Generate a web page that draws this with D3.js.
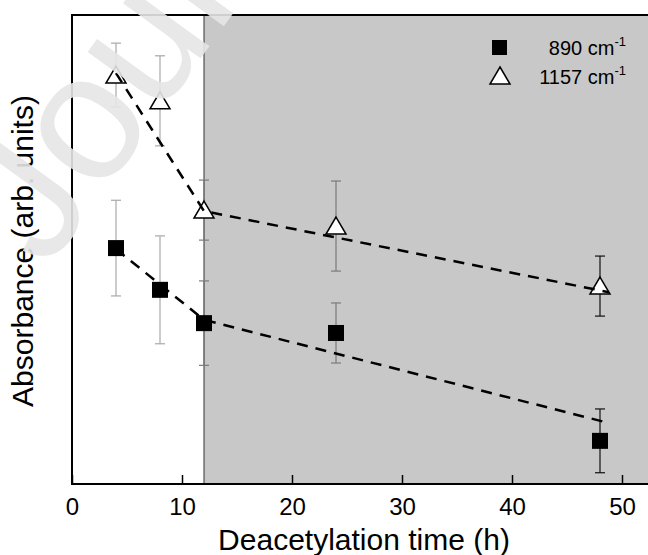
<!DOCTYPE html>
<html>
<head>
<meta charset="utf-8">
<script src="https://cdn.jsdelivr.net/npm/d3@7"></script>
<style>
  body { margin: 0; background: #fff; }
  text { font-family: Arial, "Liberation Sans", sans-serif; fill: #000; }
</style>
</head>
<body>
<div id="plot"></div>
<script>
// data (absorbance in arbitrary units, 0-100)
const times = [4, 8, 12, 24, 48];
const abs890 = [50.3, 41.4, 34.3, 32.2, 9.2];
const err890 = [10.2, 11.5, 9.0, 6.4, 6.8];
const abs1157 = [87.2, 81.7, 58.4, 55.0, 42.2];
const err1157 = [6.8, 9.6, 6.4, 9.6, 6.4];

// dashed linear fits (two pieces, break at 12 h)
const fitTimes = [4, 12, 48.8];
const fit890 = [50.1, 35.0, 13.0];
const fit1157 = [87.6, 58.2, 40.9];

const xTicks = [0, 10, 20, 30, 40, 50];
const shadeStart = 12;

// set svg dimensions and margins
const svgWidth = 648;
const svgHeight = 555;
const margin = {top: 15, left: 72, bottom: 484};

let svg = d3.select("#plot")
  .append("svg")
  .attr("width", svgWidth)
  .attr("height", svgHeight);

var x = d3.scaleLinear()
  .domain([0, 55])
  .range([margin.left, margin.left + 605]);

var y = d3.scaleLinear()
  .domain([0, 100])
  .range([margin.bottom, margin.top]);

// shaded region after 12 h
svg.append("rect")
  .attr("x", x(shadeStart))
  .attr("y", margin.top)
  .attr("width", svgWidth - x(shadeStart))
  .attr("height", margin.bottom - margin.top)
  .attr("fill", "#c8c8c8");

svg.append("line")
  .attr("x1", x(shadeStart)).attr("x2", x(shadeStart))
  .attr("y1", margin.top).attr("y2", margin.bottom)
  .attr("stroke", "#333")
  .attr("stroke-width", 1);

// x axis with inward ticks
let xAxis = svg.append("g")
  .attr("transform", "translate(0," + margin.bottom + ")")
  .call(d3.axisBottom(x).tickValues(xTicks).tickSizeInner(-9).tickSizeOuter(0).tickPadding(14));
xAxis.select(".domain").remove();
xAxis.selectAll(".tick line").attr("stroke", "#000").attr("stroke-width", 1.5);
xAxis.selectAll(".tick text")
  .style("font-size", "24px")
  .style("font-family", "Arial, 'Liberation Sans', sans-serif")
  .attr("fill", "#000");

// frame: left, top, bottom
svg.append("path")
  .attr("d", "M" + svgWidth + "," + margin.top + "H" + margin.left + "V" + margin.bottom + "H" + svgWidth)
  .attr("fill", "none")
  .attr("stroke", "#000")
  .attr("stroke-width", 2);

// error bars
function errColor(t) {
  if (t < shadeStart) return "#a8a8a8";
  if (t >= 48) return "#111";
  return "#7a7a7a";
}

function drawErrors(vals, errs) {
  let g = svg.append("g");
  times.forEach(function(t, i) {
    let cx = x(t);
    let y0 = y(vals[i] - errs[i]);
    let y1 = y(vals[i] + errs[i]);
    let c = errColor(t);
    g.append("line").attr("x1", cx).attr("x2", cx).attr("y1", y0).attr("y2", y1).attr("stroke", c).attr("stroke-width", 1.2);
    g.append("line").attr("x1", cx - 5).attr("x2", cx + 5).attr("y1", y0).attr("y2", y0).attr("stroke", c).attr("stroke-width", 1.2);
    g.append("line").attr("x1", cx - 5).attr("x2", cx + 5).attr("y1", y1).attr("y2", y1).attr("stroke", c).attr("stroke-width", 1.2);
  });
}
drawErrors(abs890, err890);
drawErrors(abs1157, err1157);

// markers
const triPath = "M0,-9L10,8L-10,8Z";

svg.selectAll("rect.sq")
  .data(times)
  .enter()
  .append("rect")
  .attr("class", "sq")
  .attr("x", function(d) { return x(d) - 8; })
  .attr("y", function(d, i) { return y(abs890[i]) - 8; })
  .attr("width", 16)
  .attr("height", 16)
  .attr("fill", "#000");

svg.selectAll("path.tri")
  .data(times)
  .enter()
  .append("path")
  .attr("class", "tri")
  .attr("d", triPath)
  .attr("transform", function(d, i) { return "translate(" + x(d) + "," + y(abs1157[i]) + ")"; })
  .attr("fill", "#fff")
  .attr("stroke", "#000")
  .attr("stroke-width", 1.5);

// dashed fits
let line = d3.line()
  .x(function(d) { return x(d[0]); })
  .y(function(d) { return y(d[1]); });

[fit890, fit1157].forEach(function(fit) {
  svg.append("path")
    .attr("d", line(d3.zip(fitTimes, fit)))
    .attr("fill", "none")
    .attr("stroke", "#000")
    .attr("stroke-width", 2.5)
    .attr("stroke-dasharray", "11,8");
});

// legend
let legend = svg.append("g");
legend.append("rect")
  .attr("x", 492).attr("y", 40).attr("width", 15).attr("height", 15)
  .attr("fill", "#000");
legend.append("path")
  .attr("d", triPath)
  .attr("transform", "translate(500,76)")
  .attr("fill", "#fff")
  .attr("stroke", "#000")
  .attr("stroke-width", 1.5);

[["890 cm", 55], ["1157 cm", 84]].forEach(function(l) {
  let t = legend.append("text")
    .attr("x", 626)
    .attr("y", l[1])
    .attr("text-anchor", "end")
    .style("font-size", "20px")
    .text(l[0]);
  t.append("tspan")
    .attr("dy", -9)
    .style("font-size", "13px")
    .text("-1");
});

// axis titles
svg.append("text")
  .attr("x", 364)
  .attr("y", 550)
  .attr("text-anchor", "middle")
  .style("font-size", "30px")
  .text("Deacetylation time (h)");

svg.append("text")
  .attr("transform", "translate(33,251) rotate(-90)")
  .attr("text-anchor", "middle")
  .style("font-size", "30px")
  .text("Absorbance (arb. units)");

// faint journal watermark on top
svg.append("text")
  .attr("transform", "translate(46,271) rotate(-54)")
  .style("font-size", "180px")
  .style("fill", "#e6e6e6")
  .style("opacity", 0.9)
  .text("Journal");
</script>
</body>
</html>
